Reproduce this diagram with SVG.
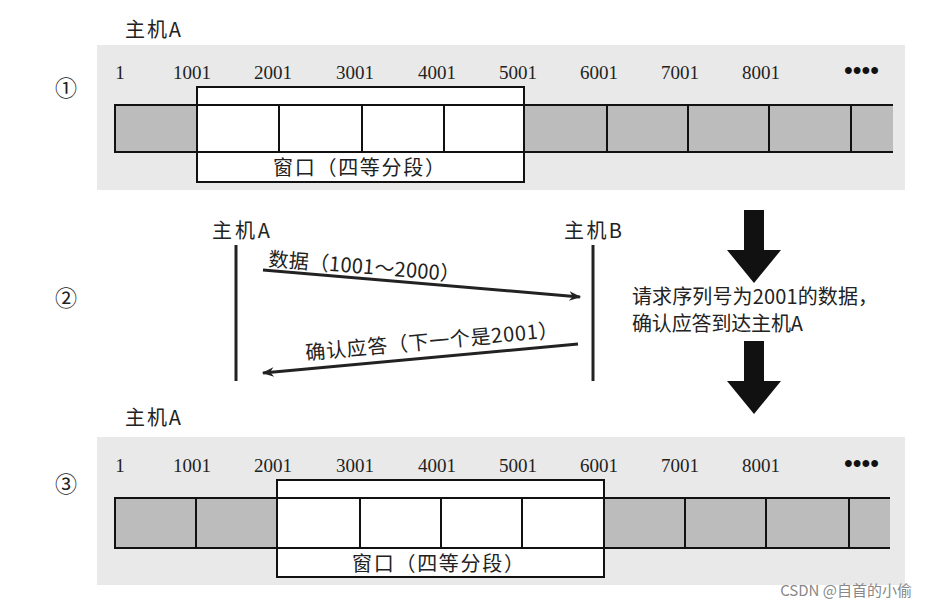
<svg xmlns="http://www.w3.org/2000/svg" width="927" height="607" viewBox="0 0 927 607">
<style>
.t{font-family:"Liberation Serif","Noto Sans CJK SC",serif;font-size:19px;fill:#222}
.c{font-family:"Noto Sans CJK SC",sans-serif;font-size:20px;fill:#222}
.n{font-family:"Liberation Serif",serif;font-size:19px;fill:#222;text-anchor:middle}
.d{font-family:"Liberation Serif",serif;font-size:25px;font-weight:bold;fill:#111}
.bg{fill:#e9e9e9}
.cell{fill:#bcbcbc;stroke:#111;stroke-width:2}
.win{fill:#fff;stroke:#111;stroke-width:2}
.ln{stroke:#222;stroke-width:3;fill:none}
</style>
<defs>
<marker id="ah" viewBox="0 0 10 10" refX="9" refY="5" markerWidth="5" markerHeight="4" orient="auto" markerUnits="strokeWidth">
<path d="M0,1 L10,5 L0,9 L3,5 Z" fill="#222"/>
</marker>
<path id="bigarrow" d="M-10,0 H10 V40 H27 L0,73 L-27,40 H-10 Z" fill="#111"/>
</defs>
<rect width="927" height="607" fill="#fff"/>

<!-- Panel 1 -->
<g id="panel1">
<text class="c" x="125" y="37" textLength="56">主机A</text>
<text class="c" x="55" y="96" style="font-size:22px">①</text>
<rect class="bg" x="97" y="45" width="808" height="145"/>
<g class="n">
<text x="120" y="79">1</text><text x="192" y="79">1001</text><text x="273" y="79">2001</text><text x="355" y="79">3001</text><text x="437" y="79">4001</text><text x="518" y="79">5001</text><text x="599" y="79">6001</text><text x="680" y="79">7001</text><text x="761" y="79">8001</text>
</g>
<text class="d" x="844" y="79">••••</text>
<rect class="win" x="197" y="87" width="327" height="95"/>
<rect class="cell" x="115" y="105" width="82" height="47"/>
<rect class="win" x="197" y="105" width="82" height="47"/>
<rect class="win" x="279" y="105" width="83" height="47"/>
<rect class="win" x="362" y="105" width="82" height="47"/>
<rect class="win" x="444" y="105" width="80" height="47"/>
<rect class="cell" x="524" y="105" width="83" height="47"/>
<rect class="cell" x="607" y="105" width="81" height="47"/>
<rect class="cell" x="688" y="105" width="81" height="47"/>
<rect class="cell" x="769" y="105" width="82" height="47"/>
<rect x="852" y="106" width="41" height="45" fill="#bcbcbc"/>
<path d="M851,105 V152 M851,105 H893 M851,152 H893" stroke="#111" stroke-width="2" fill="none"/>
<text class="c" x="273" y="175" textLength="172">窗口（四等分段）</text>
</g>

<!-- Panel 2 -->
<g id="panel2">
<text class="c" x="55" y="306" style="font-size:22px">②</text>
<text class="c" x="212" y="238" textLength="58">主机A</text>
<text class="c" x="564" y="238" textLength="58">主机B</text>
<line class="ln" x1="236" y1="245" x2="236" y2="381"/>
<line class="ln" x1="593" y1="245" x2="593" y2="381"/>
<text class="c" x="268" y="266" transform="rotate(4.6 268 266)" textLength="192">数据（1001～2000）</text>
<text class="c" x="306" y="360" transform="rotate(-5.2 306 360)" textLength="254">确认应答（下一个是2001）</text>
</g>

<g id="connectors">
<line class="ln" x1="263" y1="270" x2="580" y2="297" marker-end="url(#ah)"/>
<line class="ln" x1="578" y1="344" x2="263" y2="373" marker-end="url(#ah)"/>
<line class="ln" x1="218" y1="489" x2="264" y2="489" marker-end="url(#ah)"/>
<line class="ln" x1="218" y1="557" x2="264" y2="557" marker-end="url(#ah)"/>
<use href="#bigarrow" x="754" y="210"/>
<use href="#bigarrow" x="754" y="341"/>
</g>

<g id="note">
<text class="c"><tspan x="632" y="304" textLength="246">请求序列号为2001的数据，</tspan><tspan x="632" y="331" textLength="171">确认应答到达主机A</tspan></text>
</g>

<!-- Panel 3 -->
<g id="panel3">
<text class="c" x="125" y="425" textLength="56">主机A</text>
<text class="c" x="55" y="492" style="font-size:22px">③</text>
<rect class="bg" x="97" y="437" width="808" height="148"/>
<g class="n">
<text x="120" y="472">1</text><text x="192" y="472">1001</text><text x="273" y="472">2001</text><text x="355" y="472">3001</text><text x="437" y="472">4001</text><text x="518" y="472">5001</text><text x="599" y="472">6001</text><text x="680" y="472">7001</text><text x="761" y="472">8001</text>
</g>
<text class="d" x="844" y="472">••••</text>
<rect class="win" x="277" y="480" width="327" height="97"/>
<rect class="cell" x="115" y="498" width="81" height="50"/>
<rect class="cell" x="196" y="498" width="81" height="50"/>
<rect class="win" x="277" y="498" width="83" height="50"/>
<rect class="win" x="360" y="498" width="81" height="50"/>
<rect class="win" x="441" y="498" width="81" height="50"/>
<rect class="win" x="522" y="498" width="82" height="50"/>
<rect class="cell" x="604" y="498" width="81" height="50"/>
<rect class="cell" x="685" y="498" width="81" height="50"/>
<rect class="cell" x="766" y="498" width="83" height="50"/>
<rect x="850" y="499" width="40" height="48" fill="#bcbcbc"/>
<path d="M849,498 V548 M849,498 H890 M849,548 H890" stroke="#111" stroke-width="2" fill="none"/>
<text class="c" x="352" y="571" textLength="172">窗口（四等分段）</text>
</g>
<text x="912" y="596" text-anchor="end" style="font-family:'Noto Sans CJK SC',sans-serif;font-size:15px;fill:#888">CSDN @自首的小偷</text>
</svg>
